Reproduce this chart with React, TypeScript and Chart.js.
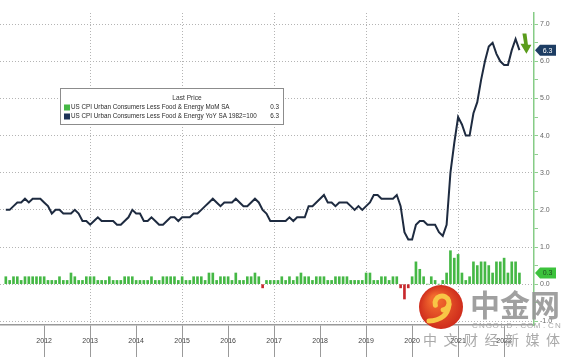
import React, { useEffect, useRef } from 'react';
import { Chart, registerables } from 'chart.js';

Chart.register(...registerables);

// ---- data (monthly, month-end, Aug 2011 .. Oct 2022) ----
const FIRST_YEAR = 2011;
const FIRST_MONTH = 8; // August

const yoyValues = [
  2.0, 2.0, 2.1, 2.2, 2.2,
  2.3, 2.2, 2.3, 2.3, 2.3, 2.2, 2.1, 1.9, 2.0, 2.0, 1.9, 1.9,
  1.9, 2.0, 1.9, 1.7, 1.7, 1.6, 1.7, 1.8, 1.7, 1.7, 1.7, 1.7,
  1.6, 1.6, 1.7, 1.8, 2.0, 1.9, 1.9, 1.7, 1.7, 1.8, 1.7, 1.6,
  1.6, 1.7, 1.8, 1.8, 1.7, 1.8, 1.8, 1.8, 1.9, 1.9, 2.0, 2.1,
  2.2, 2.3, 2.2, 2.1, 2.2, 2.2, 2.2, 2.3, 2.2, 2.1, 2.1, 2.2,
  2.3, 2.2, 2.0, 1.9, 1.7, 1.7, 1.7, 1.7, 1.7, 1.8, 1.7, 1.8,
  1.8, 1.8, 2.1, 2.1, 2.2, 2.3, 2.4, 2.2, 2.2, 2.1, 2.2, 2.2,
  2.2, 2.1, 2.0, 2.1, 2.0, 2.1, 2.2, 2.4, 2.4, 2.3, 2.3, 2.3,
  2.3, 2.4, 2.1, 1.4, 1.2, 1.2, 1.6, 1.7, 1.7, 1.6, 1.6, 1.6,
  1.4, 1.3, 1.6, 3.0, 3.8, 4.5, 4.3, 4.0, 4.0, 4.6, 4.9, 5.5,
  6.0, 6.4, 6.5, 6.2, 6.0, 5.9, 5.9, 6.3, 6.6, 6.3,
];

const momValues = [
  0.2, 0.1, 0.2, 0.2, 0.1,
  0.2, 0.2, 0.2, 0.2, 0.2, 0.2, 0.1, 0.1, 0.1, 0.2, 0.1, 0.1,
  0.3, 0.2, 0.1, 0.1, 0.2, 0.2, 0.2, 0.1, 0.1, 0.1, 0.2, 0.1,
  0.1, 0.1, 0.2, 0.2, 0.2, 0.1, 0.1, 0.1, 0.1, 0.2, 0.1, 0.1,
  0.2, 0.2, 0.2, 0.2, 0.1, 0.2, 0.1, 0.1, 0.2, 0.2, 0.2, 0.1,
  0.3, 0.3, 0.1, 0.2, 0.2, 0.2, 0.1, 0.3, 0.1, 0.1, 0.2, 0.2,
  0.3, 0.2, -0.1, 0.1, 0.1, 0.1, 0.1, 0.2, 0.1, 0.2, 0.1, 0.2,
  0.3, 0.2, 0.2, 0.1, 0.2, 0.2, 0.2, 0.1, 0.1, 0.2, 0.2, 0.2,
  0.2, 0.1, 0.1, 0.1, 0.1, 0.3, 0.3, 0.1, 0.1, 0.2, 0.2, 0.1,
  0.2, 0.2, -0.1, -0.4, -0.1, 0.2, 0.6, 0.4, 0.2, 0.0, 0.2, 0.1,
  0.0, 0.1, 0.3, 0.9, 0.7, 0.8, 0.3, 0.1, 0.2, 0.6, 0.5, 0.6,
  0.6, 0.5, 0.3, 0.6, 0.6, 0.7, 0.3, 0.6, 0.6, 0.3,
];

const yearLabels = ['2012', '2013', '2014', '2015', '2016', '2017', '2018', '2019', '2020', '2021', '2022'];
const yearBoundaries = [2012, 2013, 2014, 2015, 2016, 2017, 2018, 2019, 2020, 2021, 2022, 2023];
const yTickValues = [-1, -0.5, 0, 0.5, 1, 1.5, 2, 2.5, 3, 3.5, 4, 4.5, 5, 5.5, 6, 6.5, 7];

const X_MIN = 2011.54;
const X_MAX = 2023.15;
const Y_MIN = -1.1;
const Y_MAX = 7.3;

const legendTitle = 'Last Price';
const seriesNames = [
  'US CPI Urban Consumers Less Food & Energy MoM SA',
  'US CPI Urban Consumers Less Food & Energy YoY SA 1982=100',
];
const lastMoM = momValues[momValues.length - 1];
const lastYoY = yoyValues[yoyValues.length - 1];

const watermarkName = '中金网';
const watermarkSite = 'CNGOLD.COM.CN';
const watermarkTag = ['中', '文', '财', '经', '新', '媒', '体'];

const FONT = '"Liberation Sans", Arial, sans-serif';
const CJK = '"Noto Sans CJK SC", sans-serif';
const GREEN = '#45b845';
const RED = '#c8282d';
const NAVY = '#1e2b40';

const monthX = (i: number) => FIRST_YEAR + (FIRST_MONTH + i) / 12;

const overlayPlugin = {
  id: 'overlay',
  afterDraw(chart: any) {
    const { ctx, chartArea, scales } = chart;
    const xs = scales.x;
    const ys = scales.y;
    ctx.save();

    const lastFmt = (v: number) => v.toFixed(1);
    // value tags on right axis
    const tag = (value: number, bg: string, fg: string) => {
      const y = ys.getPixelForValue(value);
      const x0 = chartArea.right + 1;
      ctx.beginPath();
      ctx.moveTo(x0, y);
      ctx.lineTo(x0 + 5, y - 5.5);
      ctx.lineTo(x0 + 21, y - 5.5);
      ctx.lineTo(x0 + 21, y + 5.5);
      ctx.lineTo(x0 + 5, y + 5.5);
      ctx.closePath();
      ctx.fillStyle = bg;
      ctx.fill();
      ctx.fillStyle = fg;
      ctx.font = `7px ${FONT}`;
      ctx.textAlign = 'center';
      ctx.textBaseline = 'middle';
      ctx.fillText(lastFmt(value), x0 + 12.5, y + 0.5);
    };
    tag(lastYoY, '#1d3d63', '#ffffff');
    tag(lastMoM, '#3cc23c', '#1c4f1c');

    // green down arrow next to last point
    const lx = xs.getPixelForValue(monthX(yoyValues.length - 1)) + 6.5;
    const top = ys.getPixelForValue(6.75);
    const bot = ys.getPixelForValue(6.2);
    ctx.fillStyle = '#5a9c1c';
    ctx.beginPath();
    ctx.moveTo(lx - 3.5, top);
    ctx.lineTo(lx + 0.5, top);
    ctx.lineTo(lx + 2, bot - 9);
    ctx.lineTo(lx + 5.5, bot - 9);
    ctx.lineTo(lx + 0.5, bot);
    ctx.lineTo(lx - 5.5, bot - 10);
    ctx.lineTo(lx - 1.8, bot - 10);
    ctx.closePath();
    ctx.fill();

    // legend box
    const bx = 60, by = 88, bw = 223, bh = 36;
    ctx.fillStyle = '#ffffff';
    ctx.fillRect(bx, by, bw, bh);
    ctx.strokeStyle = '#8c8c8c';
    ctx.lineWidth = 1;
    ctx.strokeRect(bx + 0.5, by + 0.5, bw, bh);
    ctx.fillStyle = '#333';
    ctx.font = `6.6px ${FONT}`;
    ctx.textAlign = 'center';
    ctx.textBaseline = 'middle';
    ctx.fillText(legendTitle, 187, by + 10.5);
    const rows = [
      { name: seriesNames[0], color: GREEN, value: lastMoM },
      { name: seriesNames[1], color: '#1d3358', value: lastYoY },
    ];
    rows.forEach((r, i) => {
      const cy = by + 19.5 + i * 9;
      ctx.fillStyle = r.color;
      ctx.fillRect(bx + 4, cy - 3, 6, 6);
      ctx.fillStyle = '#2a2a2a';
      ctx.font = `6.3px ${FONT}`;
      ctx.textAlign = 'left';
      ctx.fillText(r.name, bx + 11, cy);
      ctx.textAlign = 'right';
      ctx.fillText(r.value.toFixed(1), bx + bw - 4, cy);
    });

    // watermark
    const cx = 441, cyL = 307, r = 22;
    const g = ctx.createRadialGradient(cx - 6, cyL - 8, 4, cx, cyL, r);
    g.addColorStop(0, '#f26a2e');
    g.addColorStop(1, '#cf2c1c');
    ctx.fillStyle = g;
    ctx.beginPath();
    ctx.arc(cx, cyL, r, 0, Math.PI * 2);
    ctx.fill();
    ctx.strokeStyle = '#f8c646';
    ctx.lineCap = 'round';
    ctx.lineWidth = 5;
    ctx.beginPath();
    ctx.arc(cx + 1, cyL - 4, 7, Math.PI * 0.9, Math.PI * 2.45);
    ctx.stroke();
    ctx.beginPath();
    ctx.moveTo(cx + 8, cyL - 2);
    ctx.quadraticCurveTo(cx + 6, cyL + 13, cx - 12, cyL + 14);
    ctx.stroke();

    ctx.fillStyle = 'rgba(150,150,150,0.9)';
    ctx.font = `bold 30px ${CJK}`;
    ctx.textAlign = 'left';
    ctx.textBaseline = 'alphabetic';
    ctx.fillText(watermarkName, 470, 316);
    ctx.font = `8px ${FONT}`;
    ctx.textBaseline = 'middle';
    ctx.fillStyle = 'rgba(160,160,160,0.9)';
    watermarkSite.split('').forEach((c, i) => {
      ctx.textAlign = 'center';
      ctx.fillText(c, 475 + i * 6.9, 325.5);
    });
    ctx.font = `14px ${CJK}`;
    ctx.fillStyle = 'rgba(140,140,140,0.75)';
    watermarkTag.forEach((c, i) => {
      ctx.textAlign = 'center';
      ctx.fillText(c, 430 + i * 20.5, 340);
    });
    ctx.restore();
  },
};

export default function App() {
  const ref = useRef<HTMLCanvasElement | null>(null);

  useEffect(() => {
    if (!ref.current) return;
    const yoyData = yoyValues.map((v, i) => ({ x: monthX(i), y: v }));
    const momData = momValues.map((v, i) => ({ x: monthX(i), y: v }));

    const chart = new Chart(ref.current, {
      type: 'bar',
      data: {
        datasets: [
          {
            type: 'line',
            label: seriesNames[1],
            data: yoyData,
            borderColor: NAVY,
            borderWidth: 2,
            pointRadius: 0,
            tension: 0,
            order: 0,
          } as any,
          {
            type: 'bar',
            label: seriesNames[0],
            data: momData,
            backgroundColor: (c: any) => (c.raw && c.raw.y < 0 ? RED : GREEN),
            barThickness: 2,
            borderWidth: 0,
            order: 1,
          } as any,
        ],
      },
      options: {
        responsive: false,
        animation: false,
        devicePixelRatio: 1,
        layout: { padding: { top: 13, left: 0, right: 0, bottom: 0 } },
        plugins: { legend: { display: false }, tooltip: { enabled: false } },
        scales: {
          x: {
            type: 'linear',
            min: X_MIN,
            max: X_MAX,
            offset: false,
            afterBuildTicks: (s: any) => {
              s.ticks = yearBoundaries.map((v) => ({ value: v }));
            },
            afterFit: (s: any) => {
              s.height = 32;
            },
            ticks: {
              autoSkip: false,
              maxRotation: 0,
              minRotation: 0,
              labelOffset: 23,
              padding: -20,
              color: '#444',
              font: { size: 7, family: FONT },
              callback: (v: any) => (yearLabels.includes(String(v)) ? String(v) : ''),
            },
            grid: {
              color: (c: any) => (c.tick && c.tick.value % 2 === 0 ? '#b4b4b4' : 'rgba(0,0,0,0)'),
              lineWidth: 1,
              drawTicks: true,
              tickLength: 32,
              tickColor: '#9a9a9a',
              tickWidth: 1,
            },
            border: { display: true, color: '#9a9a9a', width: 1.5, dash: [1, 2] },
          },
          y: {
            type: 'linear',
            position: 'right',
            min: Y_MIN,
            max: Y_MAX,
            afterBuildTicks: (s: any) => {
              s.ticks = yTickValues.map((v) => ({ value: v }));
            },
            afterFit: (s: any) => {
              s.width = 42;
            },
            ticks: {
              autoSkip: false,
              padding: 2,
              color: '#666',
              font: { size: 7, family: FONT },
              callback: (v: any) => (Number.isInteger(v) ? Number(v).toFixed(1) : ''),
            },
            grid: {
              color: (c: any) => (c.tick && Number.isInteger(c.tick.value) ? '#b4b4b4' : 'rgba(0,0,0,0)'),
              lineWidth: 1,
              drawTicks: true,
              tickLength: 4,
              tickColor: '#8fcf8f',
              tickWidth: 1,
            },
            border: { display: true, color: '#86cc86', width: 1.5, dash: [1, 2] },
          },
        },
      },
      plugins: [overlayPlugin],
    } as any);

    return () => chart.destroy();
  }, []);

  return (
    <div style={{ position: 'absolute', left: 0, top: 0, width: 576, height: 357, background: '#fff' }}>
      <canvas ref={ref} width={576} height={357} style={{ display: 'block' }} />
    </div>
  );
}
